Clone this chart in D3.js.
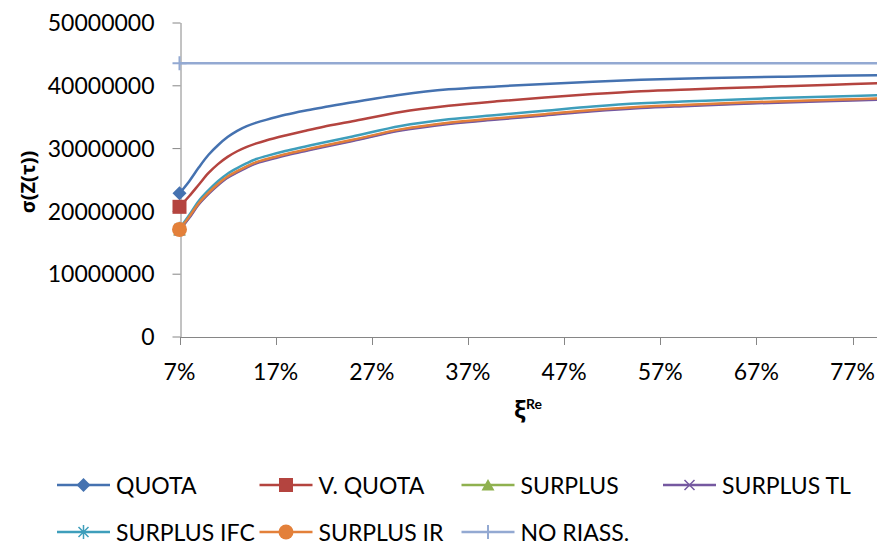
<!DOCTYPE html>
<html>
<head>
<meta charset="utf-8">
<script src="https://cdn.jsdelivr.net/npm/d3@7/dist/d3.min.js"></script>
<style>
  html, body { margin: 0; padding: 0; background: #fff; }
  svg { display: block; }
  text { font-family: Lato, "Noto Sans", sans-serif; fill: #000; }
</style>
</head>
<body>
<svg id="chart" width="877" height="544"></svg>
<script>
// Reinsurance share ξ^Re (%) on the horizontal axis
const xi = [7, 8, 9, 10, 11, 12, 13, 14, 15, 16, 18, 20, 22, 25, 30, 35, 40, 45, 50, 55, 60, 65, 70, 75, 80];

// σ(Z(τ)) for each treaty, in millions
const quota      = [22.8, 24.7, 26.9, 28.9, 30.45, 31.75, 32.75, 33.5, 34.05, 34.5, 35.3, 35.95, 36.5, 37.3, 38.5, 39.36, 39.82, 40.22, 40.58, 40.88, 41.08, 41.24, 41.38, 41.51, 41.63];
const vQuota     = [20.65, 22.33, 24.16, 26.0, 27.45, 28.6, 29.5, 30.2, 30.75, 31.22, 32.0, 32.72, 33.4, 34.27, 35.75, 36.73, 37.45, 38.06, 38.6, 39.05, 39.35, 39.6, 39.85, 40.1, 40.33];
const surplus    = [16.95, 18.95, 21.13, 22.77, 24.18, 25.37, 26.22, 27.0, 27.67, 28.12, 28.93, 29.6, 30.28, 31.22, 32.88, 33.94, 34.64, 35.3, 35.98, 36.5, 36.82, 37.12, 37.38, 37.6, 37.83];
const surplusTL  = [16.9, 18.85, 21.03, 22.67, 24.08, 25.27, 26.12, 26.9, 27.57, 28.02, 28.83, 29.5, 30.18, 31.12, 32.78, 33.84, 34.54, 35.2, 35.88, 36.4, 36.72, 37.02, 37.28, 37.5, 37.73];
const surplusIFC = [17.15, 19.3, 21.58, 23.27, 24.73, 25.92, 26.82, 27.6, 28.27, 28.72, 29.53, 30.22, 30.9, 31.85, 33.52, 34.58, 35.28, 35.95, 36.63, 37.15, 37.45, 37.75, 38.0, 38.22, 38.45];
const surplusIR  = [17.05, 19.05, 21.23, 22.87, 24.28, 25.47, 26.32, 27.1, 27.77, 28.22, 29.03, 29.7, 30.38, 31.32, 32.98, 34.04, 34.74, 35.4, 36.08, 36.6, 36.92, 37.22, 37.48, 37.7, 37.93];
const noRiass    = [43.5, 43.5, 43.5, 43.5, 43.5, 43.5, 43.5, 43.5, 43.5, 43.5, 43.5, 43.5, 43.5, 43.5, 43.5, 43.5, 43.5, 43.5, 43.5, 43.5, 43.5, 43.5, 43.5, 43.5, 43.5];
const UNIT = 1e6;

const seriesNames = ["QUOTA", "V. QUOTA", "SURPLUS", "SURPLUS TL", "SURPLUS IFC", "SURPLUS IR", "NO RIASS."];
const seriesValues = [quota, vQuota, surplus, surplusTL, surplusIFC, surplusIR, noRiass];

const xTicks = [7, 17, 27, 37, 47, 57, 67, 77];
const yTicks = [0, 10000000, 20000000, 30000000, 40000000, 50000000];

// Drawing styles
const colors  = ["#4572B0", "#B4443F", "#8FB14F", "#7558A0", "#3E9EBB", "#E3803A", "#93A9D2"];
const markers = ["diamond", "square", "triangle", "x", "star", "circle", "plus"];

const svg = d3.select("#chart");
const x = d3.scaleLinear().domain([7, 77]).range([179.5, 852.5]);
const y = d3.scaleLinear().domain([0, 50000000]).range([336.5, 22.5]);
const axisColor = "#868686";

// Y axis
const yAxis = svg.append("g")
  .attr("transform", "translate(180.5,0)")
  .call(d3.axisLeft(y).tickValues(yTicks).tickSize(8).tickSizeOuter(0).tickPadding(18)
        .tickFormat(d3.format("d")));
yAxis.select(".domain").attr("stroke", axisColor);
yAxis.selectAll(".tick line").attr("stroke", axisColor);
yAxis.selectAll(".tick text").attr("font-size", 23).attr("dy", "0.36em")
  .style("font-family", "Lato, 'Noto Sans', sans-serif").attr("fill", "#000");

// X axis, running on to the right edge
const xAxisG = svg.append("g").attr("transform", "translate(0,337)");
xAxisG.append("line").attr("x1", 180).attr("x2", 877).attr("y1", 0.5).attr("y2", 0.5)
  .attr("stroke", axisColor);
xAxisG.selectAll("line.tick").data(xTicks).join("line").attr("class", "tick")
  .attr("x1", d => Math.round(x(d)) + 0.5).attr("x2", d => Math.round(x(d)) + 0.5)
  .attr("y1", 0.5).attr("y2", 8).attr("stroke", axisColor);
xAxisG.selectAll("text").data(xTicks).join("text")
  .attr("x", d => x(d)).attr("y", 43).attr("text-anchor", "middle").attr("font-size", 23)
  .text(d => d + "%");

// Axis titles
svg.append("text").attr("transform", "translate(35,182) rotate(-90)")
  .attr("text-anchor", "middle").attr("font-size", 20).attr("font-weight", "bold")
  .style("font-family", "'Noto Sans', 'DejaVu Sans', sans-serif")
  .text("σ(Z(τ))");
const xt = svg.append("text").attr("x", 528).attr("y", 418).attr("text-anchor", "middle")
  .attr("font-weight", "bold");
xt.append("tspan").attr("font-size", 23).style("font-family", "'Noto Sans', sans-serif").text("ξ");
xt.append("tspan").attr("font-size", 14).attr("dy", -9).text("Re");

// Marker shapes
function marker(g, type, color, cx, cy) {
  const m = g.append("g").attr("transform", `translate(${cx},${cy})`);
  switch (type) {
    case "diamond":
      m.append("path").attr("d", "M0,-7L7,0L0,7L-7,0Z").attr("fill", color); break;
    case "square":
      m.append("rect").attr("x", -7).attr("y", -7).attr("width", 14).attr("height", 14).attr("fill", color); break;
    case "triangle":
      m.append("path").attr("d", "M0,-6L6.5,5.5L-6.5,5.5Z").attr("fill", color); break;
    case "x":
      m.append("path").attr("d", "M-5,-5L5,5M-5,5L5,-5").attr("stroke", color).attr("stroke-width", 1.5); break;
    case "star":
      m.append("path").attr("d", "M-5,-5L5,5M-5,5L5,-5M0,-7L0,7").attr("stroke", color).attr("stroke-width", 1.5); break;
    case "circle":
      m.append("circle").attr("r", 7.5).attr("fill", color); break;
    case "plus":
      m.append("path").attr("d", "M-7,0L7,0M0,-7L0,7").attr("stroke", color).attr("stroke-width", 2); break;
  }
}

// Series lines (smoothed)
const line = d3.line().x(d => x(d[0])).y(d => y(d[1] * UNIT)).curve(d3.curveCatmullRom.alpha(0.5));
const plot = svg.append("g");
seriesValues.forEach((vals, i) => {
  const pts = xi.map((v, j) => [v, vals[j]]);
  plot.append("path").datum(pts).attr("d", line).attr("fill", "none")
    .attr("stroke", colors[i]).attr("stroke-width", 2.5).attr("stroke-linejoin", "round");
});
seriesValues.forEach((vals, i) => {
  marker(plot, markers[i], colors[i], x(xi[0]), y(vals[0] * UNIT));
});

// Legend
const legendCols = [57, 259.5, 461.5, 663];
const legendRows = [485, 532];
seriesNames.forEach((name, i) => {
  const col = i < 4 ? i : i - 4;
  const row = i < 4 ? 0 : 1;
  const lx = legendCols[col], ly = legendRows[row];
  const g = svg.append("g");
  g.append("line").attr("x1", lx).attr("x2", lx + 53).attr("y1", ly).attr("y2", ly)
    .attr("stroke", colors[i]).attr("stroke-width", 2.5);
  marker(g, markers[i], colors[i], lx + 26.5, ly);
  g.append("text").attr("x", lx + 59).attr("y", ly + 8.5).attr("font-size", 23).text(name);
});
</script>
</body>
</html>
